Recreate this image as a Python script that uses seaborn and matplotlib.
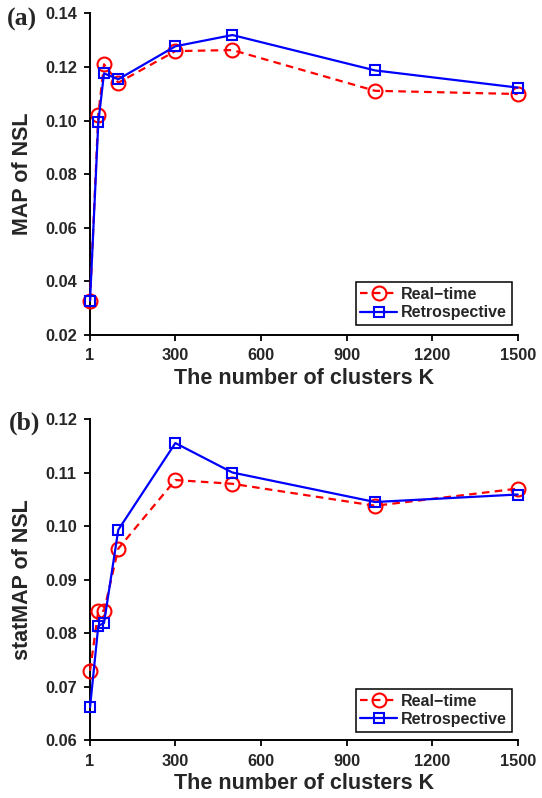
import matplotlib
matplotlib.use("Agg")
import matplotlib.pyplot as plt
import seaborn as sns
import pandas as pd

# ---- data ----
K = [1, 30, 50, 100, 300, 500, 1000, 1500]
map_realtime = [0.0328, 0.1022, 0.1210, 0.1141, 0.1259, 0.1263, 0.1111, 0.1099]
map_retro = [0.0328, 0.0993, 0.1176, 0.1154, 0.1277, 0.1319, 0.1187, 0.1123]
stat_realtime = [0.0730, 0.0842, 0.0842, 0.0958, 0.1086, 0.1079, 0.1038, 0.1070]
stat_retro = [0.0662, 0.0814, 0.0819, 0.0993, 0.1155, 0.1100, 0.1045, 0.1059]
series_labels = ["Real\u2212time", "Retrospective"]
x_ticks = [1, 300, 600, 900, 1200, 1500]
top_yticks = [0.02, 0.04, 0.06, 0.08, 0.10, 0.12, 0.14]
bot_yticks = [0.06, 0.07, 0.08, 0.09, 0.10, 0.11, 0.12]
ylabels = ["MAP of NSL", "statMAP of NSL"]
xlabel = "The number of clusters K"
panel_labels = ["(a)", "(b)"]

sns.set_style("white")
plt.rcParams["font.family"] = ["Liberation Sans", "DejaVu Sans"]
plt.rcParams["font.weight"] = "bold"

fig = plt.figure(figsize=(5.42, 7.98), dpi=100)
ax_top = fig.add_axes([0.1661, 0.5802, 0.7891, 0.4031])
ax_bot = fig.add_axes([0.1661, 0.0721, 0.7891, 0.4029])

def draw(ax, rt, rs, yticks, ylabel, legend_bottom):
    df_rt = pd.DataFrame({"K": K, "v": rt})
    df_rs = pd.DataFrame({"K": K, "v": rs})
    sns.lineplot(data=df_rt, x="K", y="v", ax=ax, color="#ff0000", linewidth=1.6,
                 marker="o", markersize=10, markerfacecolor="none",
                 markeredgecolor="#ff0000", markeredgewidth=1.5,
                 errorbar=None, clip_on=False, label=series_labels[0], zorder=3)
    ax.lines[-1].set_linestyle((0, (3.4, 2.4)))
    sns.lineplot(data=df_rs, x="K", y="v", ax=ax, color="#0000ff", linewidth=1.6,
                 marker="s", markersize=7, markerfacecolor="none",
                 markeredgecolor="#0000ff", markeredgewidth=1.5,
                 errorbar=None, clip_on=False, label=series_labels[1], zorder=4)
    ax.set_xlim(1, 1500)
    ax.set_ylim(yticks[0], yticks[-1])
    ax.set_xticks(x_ticks)
    ax.set_yticks(yticks)
    ax.set_yticklabels([f"{t:.2f}" for t in yticks])
    ax.tick_params(axis="both", direction="out", length=4.5, width=1.3,
                   labelsize=11.8, color="black", pad=5, left=True, bottom=True)
    for lab in ax.get_xticklabels() + ax.get_yticklabels():
        lab.set_fontweight("bold")
    for side in ["top", "right"]:
        ax.spines[side].set_visible(False)
    for side in ["left", "bottom"]:
        ax.spines[side].set_color("black")
        ax.spines[side].set_linewidth(1.4)
    ax.set_xlabel(xlabel, fontsize=15.5, fontweight="bold")
    ax.set_ylabel(ylabel, fontsize=15.5, fontweight="bold")
    ax.xaxis.set_label_coords(0.5, -0.135)
    ax.xaxis.label.set_verticalalignment("center")
    ax.yaxis.set_label_coords(-0.158, 0.5)
    ax.yaxis.label.set_verticalalignment("center")
    leg = ax.legend(loc="lower right", bbox_to_anchor=(0.986, legend_bottom),
                    borderaxespad=0, fancybox=False, frameon=True,
                    prop={"weight": "bold", "size": 11.5},
                    handlelength=2.3, handletextpad=0.25, borderpad=0.3,
                    labelspacing=0.2)
    leg.get_frame().set_edgecolor("black")
    leg.get_frame().set_linewidth(1.1)
    leg.get_frame().set_alpha(1)

draw(ax_top, map_realtime, map_retro, top_yticks, ylabels[0], 0.031)
draw(ax_bot, stat_realtime, stat_retro, bot_yticks, ylabels[1], 0.027)

fig.text(7 / 542, 1 - 19 / 798, panel_labels[0], ha="left", va="center",
         fontsize=18.5, fontweight="bold", family=["Liberation Serif", "DejaVu Serif"])
fig.text(9 / 542, 1 - 423 / 798, panel_labels[1], ha="left", va="center",
         fontsize=18.5, fontweight="bold", family=["Liberation Serif", "DejaVu Serif"])

fig.savefig("out.png", dpi=100)
